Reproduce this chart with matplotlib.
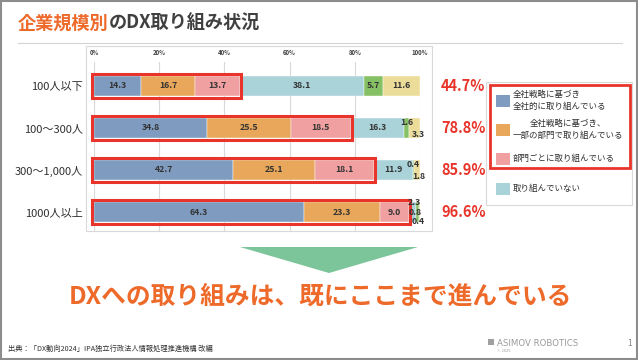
import matplotlib
matplotlib.use("Agg")
import matplotlib.pyplot as plt
from matplotlib.patches import Rectangle, Polygon
import numpy as np

plt.rcParams['font.family'] = ['Noto Sans CJK JP', 'DejaVu Sans']

# data
sizes = ["100人以下", "100〜300人", "300〜1,000人", "1000人以上"]
series_names = ["全社戦略に基づき\n全社的に取り組んでいる",
                "全社戦略に基づき、\n一部の部門で取り組んでいる",
                "部門ごとに取り組んでいる",
                "取り組んでいない",
                "その他",
                "わからない"]
values = np.array([
    [14.3, 16.7, 13.7, 38.1, 5.7, 11.6],
    [34.8, 25.5, 18.5, 16.3, 1.6, 3.3],
    [42.7, 25.1, 18.1, 11.9, 0.4, 1.8],
    [64.3, 23.3, 9.0, 2.3, 0.8, 0.4],
])
colors = ["#7f9cc0", "#e8a75a", "#f0a0a0", "#a9d3d8", "#86c064", "#ecdc9a"]
ticks = [0, 20, 40, 60, 80, 100]

ORANGE = "#ee6a2a"
RED = "#e8342a"
DARK = "#404040"

fig = plt.figure(figsize=(6.38, 3.6), dpi=100)

# page overlay in pixel coordinates
pg = fig.add_axes([0, 0, 1, 1], zorder=0)
pg.set_xlim(0, 638)
pg.set_ylim(360, 0)
pg.axis("off")

pg.add_patch(Rectangle((1, 1), 636, 358, fill=False, ec="#8c8c8c", lw=1.5))
t1 = pg.text(18, 23, "企業規模別", color=ORANGE, fontsize=13.1, fontweight="bold",
             va="center", ha="left")
pg.annotate("のDX取り組み状況", xy=(1, 0), xycoords=t1, va="bottom", ha="left",
            color=DARK, fontsize=13.1, fontweight="bold")
pg.plot([18, 622], [43, 43], color="#d4d4d4", lw=0.8)

# chart frame
pg.add_patch(Rectangle((86, 46), 346, 185, fc="white", ec="#d9d9d9", lw=0.8))

# legend
pg.add_patch(Rectangle((486, 82), 146, 123, fc="white", ec="#d9d9d9", lw=0.8))
pg.add_patch(Rectangle((490, 85), 140, 83, fill=False, ec=RED, lw=2))
leg_y = [101, 130, 159, 189]
leg_align = ["left", "center", "left", "left"]
for k in range(4):
    pg.add_patch(Rectangle((496, leg_y[k] - 6), 14, 12, fc=colors[k], ec="none"))
    pg.text(513, leg_y[k] - 0.5, series_names[k], fontsize=6.1, va="center",
            ha="left", multialignment=leg_align[k], color="#303030",
            linespacing=1.45)

# arrow + message
pg.add_patch(Polygon([[240, 247], [418, 247], [329, 273]], closed=True,
                     fc="#7cc49a", ec="none"))
pg.text(320, 297, "DXへの取り組みは、既にここまで進んでいる", color=ORANGE,
        fontsize=17.8, fontweight="bold", ha="center", va="center")

# footer
pg.text(8, 349, "出典：「DX動向2024」IPA独立行政法人情報処理推進機構 改編",
        fontsize=5.2, color="#303030", va="center", ha="left")
pg.text(497, 344, "ASIMOV ROBOTICS", fontsize=6.2, color="#9a9a9a",
        va="center", ha="left", family="DejaVu Sans")
pg.text(497, 351, "© 2025", fontsize=2.5, color="#9a9a9a", va="center", ha="left",
        family="DejaVu Sans")
pg.add_patch(Rectangle((488, 339), 6, 6, fc="#a0a0a0", ec="none"))
pg.text(630, 343, "1", fontsize=6, color="#808080", va="center", ha="center")

# bar chart
ax = fig.add_axes([94 / 638, 1 - 232 / 360, 326 / 638, 170 / 360], zorder=1)
ax.patch.set_alpha(0)
y = np.arange(len(sizes))
left = np.zeros(len(sizes))
for j in range(values.shape[1]):
    ax.barh(y, values[:, j], left=left, height=0.48, color=colors[j],
            edgecolor="white", linewidth=0.3, zorder=2)
    left += values[:, j]

starts = np.cumsum(values, axis=1) - values
centers = starts + values / 2

# small-segment label offsets (row, col) -> (dx, dy) in points
offsets = {(1, 4): (0, 4), (1, 5): (3, -5),
           (2, 4): (0, 4), (2, 5): (1, -5),
           (3, 3): (1, 7), (3, 4): (-2, 0), (3, 5): (-1, -7)}
for i in range(len(sizes)):
    for j in range(values.shape[1]):
        dx, dy = offsets.get((i, j), (0, 0))
        ax.annotate(f"{values[i, j]:.1f}", xy=(centers[i, j], y[i]),
                    xytext=(dx, dy), textcoords="offset points",
                    ha="center", va="center", fontsize=6.3, fontweight="bold",
                    color="#333333", zorder=4, annotation_clip=False)

top3 = values[:, :3].sum(axis=1)
for i in range(len(sizes)):
    ax.add_patch(Rectangle((-0.6, y[i] - 0.29), top3[i] + 1.0, 0.58, fill=False,
                           ec=RED, lw=2.2, zorder=3, clip_on=False))
    ax.text(106.5, y[i], f"{top3[i]:.1f}%", color=RED, fontsize=10.5,
            fontweight="bold", va="center", ha="left", clip_on=False)

ax.set_xlim(0, 100)
ax.set_ylim(3.476, -0.571)
ax.xaxis.tick_top()
ax.set_xticks(ticks)
ax.set_xticklabels([f"{t}%" for t in ticks], fontsize=4.3, color=DARK,
                   fontweight="bold")
ax.set_yticks(y)
ax.set_yticklabels(sizes, fontsize=8, color="#303030")
ax.tick_params(axis="both", length=0)
ax.tick_params(axis="x", pad=4)
ax.tick_params(axis="y", pad=8)
ax.grid(axis="x", color="#d9d9d9", lw=0.8, zorder=0)
ax.set_axisbelow(True)
for s in ax.spines.values():
    s.set_visible(False)

fig.savefig("out.png", dpi=100)
